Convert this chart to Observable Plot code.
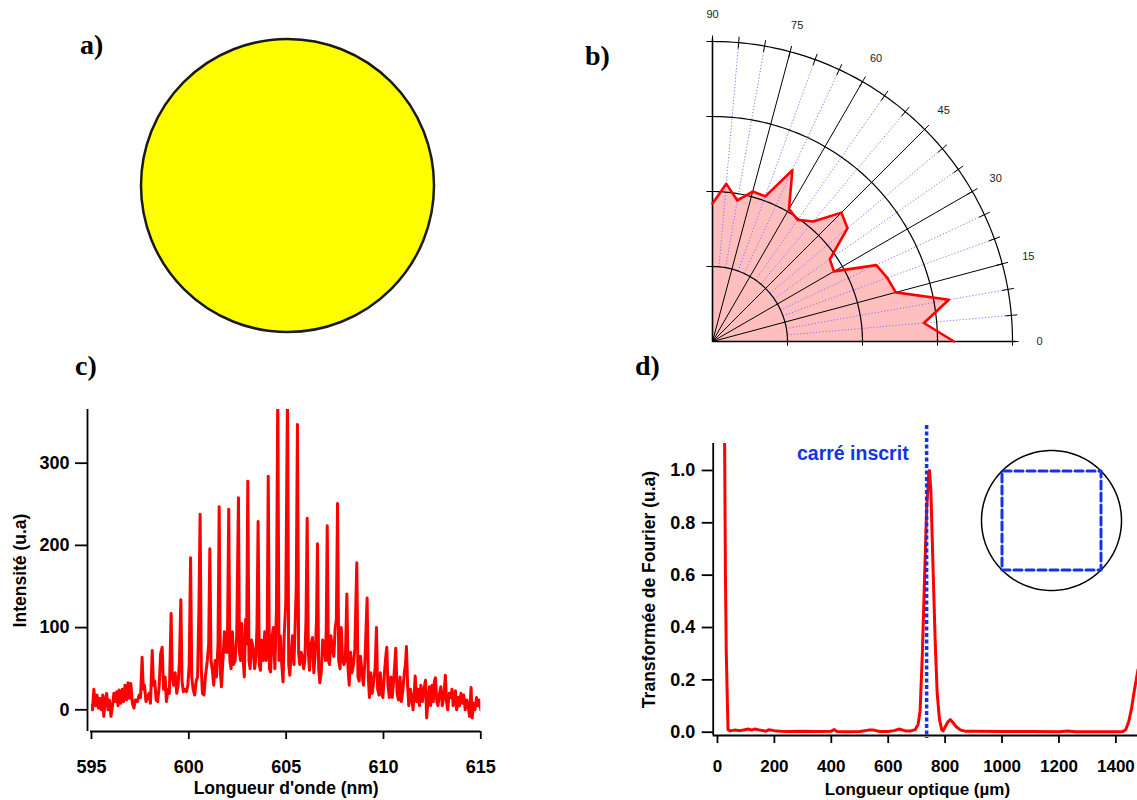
<!DOCTYPE html>
<html>
<head>
<meta charset="utf-8">
<script src="https://cdn.jsdelivr.net/npm/d3@7"></script>
<script src="https://cdn.jsdelivr.net/npm/@observablehq/plot@0.6"></script>
<style>
  html, body { margin: 0; padding: 0; background: #fff; }
  #fig { position: relative; width: 1137px; height: 800px; overflow: hidden; background: #fff; }
  .panel { position: absolute; }
  .panel svg { overflow: visible; }
  .tag { position: absolute; font-family: "Liberation Serif", "Times New Roman", serif; font-weight: bold; font-size: 28px; line-height: 28px; color: #000; }
</style>
</head>
<body>
<div id="fig"></div>
<script>
// ---------------- DATA ----------------
// panel b : polar radiation pattern (angle in degrees, radius in ring units)
const polarAngles = [0, 5, 10, 15, 20, 25, 30, 35, 40, 45, 50, 55, 60, 65, 70, 75, 80, 85, 90];
const polarRadii  = [3.22, 2.83, 3.20, 2.53, 2.48, 2.41, 1.87, 1.91, 2.35, 2.43, 2.09, 1.98, 2.04, 2.52, 2.06, 2.07, 1.91, 2.11, 1.84];
const polarRings = [1, 2, 3, 4];
const polarMajorAngles = [0, 15, 30, 45, 60, 75, 90];
const polarMinorAngles = [5, 10, 20, 25, 35, 40, 50, 55, 65, 70, 80, 85];
const polarTickAngles = [0, 5, 10, 15, 20, 25, 30, 35, 40, 45, 50, 55, 60, 65, 70, 75, 80, 85, 90];
const polarLabels = [0, 15, 30, 45, 60, 75, 90];

// panel c : spectrum [wavelength nm, intensity u.a]
const spectrum = [
[595.00,5],[595.05,0],[595.12,25],[595.20,5],[595.28,18],[595.35,2],[595.42,14],[595.50,0],[595.58,18],[595.63,-8],
[595.70,10],[595.78,20],[595.85,0],[595.92,12],[596.00,-8],[596.08,5],[596.15,20],[596.22,10],[596.30,22],[596.36,5],
[596.42,24],[596.50,8],[596.58,25],[596.65,10],[596.72,30],[596.80,12],[596.88,33],[596.95,14],[597.02,32],[597.10,8],
[597.18,2],[597.25,12],[597.35,10],[597.45,18],[597.52,15],[597.60,64],[597.66,25],[597.72,30],[597.80,10],[597.88,15],
[597.95,20],[598.03,8],[598.12,72],[598.18,30],[598.25,35],[598.32,12],[598.40,10],[598.48,30],[598.55,68],[598.63,76],
[598.70,25],[598.78,40],[598.85,10],[598.92,25],[599.00,20],[599.09,117],[599.15,40],[599.22,30],[599.30,45],[599.38,20],
[599.45,30],[599.52,60],[599.59,134],[599.65,35],[599.72,22],[599.80,25],[599.88,22],[599.95,30],[600.02,55],[600.09,185],
[600.15,40],[600.22,25],[600.30,18],[600.38,35],[600.45,40],[600.52,125],[600.58,238],[600.64,50],[600.70,20],[600.78,18],
[600.85,40],[600.95,60],[601.02,80],[601.08,196],[601.14,60],[601.20,50],[601.28,30],[601.35,60],[601.42,40],[601.50,80],
[601.56,247],[601.62,45],[601.68,28],[601.75,60],[601.83,95],[601.90,70],[601.98,70],[602.05,244],[602.11,60],[602.17,50],
[602.24,95],[602.30,55],[602.38,60],[602.46,90],[602.55,258],[602.60,70],[602.66,60],[602.72,105],[602.78,65],[602.85,40],
[602.92,110],[602.97,80],[603.03,278],[603.09,60],[603.15,50],[603.22,85],[603.30,75],[603.38,50],[603.45,65],[603.50,100],
[603.56,229],[603.62,55],[603.68,48],[603.75,85],[603.83,60],[603.90,95],[603.97,60],[604.02,70],[604.08,284],[604.14,50],
[604.20,46],[604.28,90],[604.35,100],[604.42,50],[604.50,120],[604.57,390],[604.63,60],[604.70,90],[604.76,60],[604.84,34],
[604.90,90],[604.98,130],[605.07,390],[605.13,55],[605.19,42],[605.26,70],[605.33,90],[605.40,55],[605.46,100],[605.52,150],
[605.58,347],[605.64,70],[605.70,55],[605.77,70],[605.84,65],[605.90,50],[605.96,60],[606.02,110],[606.08,233],[606.14,70],
[606.20,48],[606.28,80],[606.35,88],[606.42,45],[606.50,70],[606.56,110],[606.61,202],[606.67,50],[606.73,33],[606.80,45],
[606.88,85],[606.95,75],[607.02,60],[607.06,100],[607.11,224],[607.17,60],[607.23,55],[607.30,90],[607.37,75],[607.45,65],
[607.52,100],[607.58,110],[607.64,251],[607.70,60],[607.77,50],[607.83,100],[607.90,60],[607.97,55],[608.04,60],[608.12,141],
[608.18,50],[608.24,30],[608.31,70],[608.38,45],[608.46,55],[608.53,75],[608.63,179],[608.69,40],[608.75,35],[608.82,65],
[608.90,45],[608.97,30],[609.05,60],[609.16,136],[609.22,40],[609.28,15],[609.35,45],[609.42,20],[609.50,35],[609.57,50],
[609.64,100],[609.70,25],[609.77,18],[609.84,45],[609.90,20],[609.97,15],[610.05,45],[610.12,65],[610.17,76],[610.23,30],
[610.30,15],[610.38,40],[610.45,15],[610.52,35],[610.58,55],[610.63,75],[610.70,20],[610.77,12],[610.85,40],[610.92,10],
[611.00,25],[611.07,45],[611.13,55],[611.18,77],[611.24,30],[611.30,5],[611.38,25],[611.45,15],[611.52,0],[611.58,20],
[611.63,41],[611.70,10],[611.77,25],[611.85,5],[611.92,30],[612.00,10],[612.08,25],[612.16,36],[612.22,-10],[612.28,10],
[612.36,28],[612.42,5],[612.50,30],[612.56,10],[612.62,35],[612.67,39],[612.74,10],[612.80,5],[612.88,20],[612.95,28],
[613.02,5],[613.10,15],[613.18,42],[613.24,10],[613.30,0],[613.38,20],[613.45,15],[613.52,25],[613.58,5],[613.65,18],
[613.70,23],[613.76,0],[613.84,15],[613.90,5],[613.98,20],[614.05,8],[614.12,18],[614.20,0],[614.28,12],[614.35,5],
[614.42,-8],[614.50,27],[614.56,-10],[614.62,8],[614.70,0],[614.78,15],[614.85,5],[614.92,12],[615.00,0]
];
const specDomainX = [595, 615];
const specDomainY = [-26.4, 365.3];
const specTicksX = [595, 600, 605, 610, 615];
const specTicksY = [0, 100, 200, 300];
const specLabelX = "Longueur d'onde (nm)";
const specLabelY = "Intensité (u.a)";

// panel d : Fourier transform [optical length µm, amplitude u.a]
const fourier = [
[25,1.12],[28,0.6],[31,0.3],[37,0.01],[45,0.005],[60,0.008],[80,0.006],[100,0.01],[110,0.012],[120,0.008],
[130,0.012],[150,0.008],[170,0.004],[180,0.009],[200,0.006],[220,0.004],[250,0.003],[300,0.004],[350,0.003],[400,0.004],
[410,0.01],[420,0.003],[450,0.002],[500,0.003],[530,0.008],[550,0.008],[570,0.003],[600,0.003],[620,0.006],[640,0.012],
[660,0.005],[680,0.005],[695,0.01],[705,0.03],[712,0.08],[720,0.3],[728,0.6],[735,0.85],[742,0.98],[745,1.0],
[750,0.92],[757,0.65],[765,0.35],[772,0.15],[780,0.05],[788,0.01],[793,0.005],[800,0.02],[810,0.04],[818,0.048],
[825,0.04],[840,0.02],[855,0.008],[870,0.004],[900,0.004],[1000,0.003],[1100,0.003],[1200,0.002],[1230,0.005],[1260,0.002],
[1300,0.002],[1400,0.002],[1425,0.003],[1435,0.01],[1445,0.04],[1455,0.09],[1465,0.16],[1478,0.24]
];
const ftDomainX = [-15, 1476];
const ftDomainY = [-0.0126, 1.103];
const ftTicksX = [0, 200, 400, 600, 800, 1000, 1200, 1400];
const ftTicksY = [0, 0.2, 0.4, 0.6, 0.8, 1.0];
const ftMarker = [735];
const ftMarkerLabel = "carré inscrit";
const ftLabelX = "Longueur optique (µm)";
const ftLabelY = "Transformée de Fourier (u.a)";

const panelTags = ["a)", "b)", "c)", "d)"];

// ---------------- RENDER ----------------
const fig = document.getElementById("fig");
const SANS = "'Liberation Sans', Arial, Helvetica, sans-serif";
const TICK_FS = 18, TITLE_FS = 17.5;
function place(node, left, top) {
  const div = document.createElement("div");
  div.className = "panel";
  div.style.left = left + "px";
  div.style.top = top + "px";
  div.appendChild(node);
  fig.appendChild(div);
}
const deg = Math.PI / 180;
const px = (a, r) => r * Math.cos(a * deg);
const py = (a, r) => r * Math.sin(a * deg);

// panel a : yellow disc
place(Plot.plot({
  width: 300, height: 300, margin: 0,
  x: {domain: [-1, 1], axis: null}, y: {domain: [-1, 1], axis: null},
  marks: [Plot.dot([0], {x: () => 0, y: () => 0, r: 146.5, fill: "#ffff00", stroke: "#1a1a1a", strokeWidth: 2.5})]
}), 137, 35);

// panel b : polar plot
{
  const fillPts = [[0, 0], ...polarAngles.map((a, i) => [px(a, polarRadii[i]), py(a, polarRadii[i])]), [0, 0]];
  const curvePts = polarAngles.map((a, i) => [px(a, polarRadii[i]), py(a, polarRadii[i])]);
  const arcPts = polarRings.flatMap(r => d3.range(0, 90.5, 1).map(a => ({r, x: px(a, r), y: py(a, r)})));
  const outer = polarRings[polarRings.length - 1];
  const tickLen = 0.08;
  place(Plot.plot({
    width: 447, height: 360,
    marginLeft: 22, marginRight: 125, marginTop: 41, marginBottom: 19,
    x: {domain: [0, outer], axis: null},
    y: {domain: [0, outer], axis: null},
    style: {fontFamily: SANS, overflow: "visible"},
    marks: [
      Plot.line(fillPts, {x: d => d[0], y: d => d[1], fill: "#ffbfbf", stroke: "none"}),
      Plot.link(polarMinorAngles, {x1: a => px(a, 1), y1: a => py(a, 1), x2: a => px(a, outer), y2: a => py(a, outer), stroke: "#7878ff", strokeWidth: 1, strokeDasharray: "1.2,2"}),
      Plot.line(arcPts, {x: "x", y: "y", z: "r", stroke: "#000", strokeWidth: 1.2}),
      Plot.link(polarMajorAngles, {x1: () => 0, y1: () => 0, x2: a => px(a, outer), y2: a => py(a, outer), stroke: "#000", strokeWidth: 1}),
      Plot.link([0, 90], {x1: () => 0, y1: () => 0, x2: a => px(a, outer + 0.04), y2: a => py(a, outer + 0.04), stroke: "#000", strokeWidth: 1.6}),
      Plot.link(polarTickAngles, {x1: a => px(a, outer - tickLen), y1: a => py(a, outer - tickLen), x2: a => px(a, outer + tickLen), y2: a => py(a, outer + tickLen), stroke: "#000", strokeWidth: 1}),
      Plot.link(polarRings, {x1: () => -tickLen, x2: () => 0, y1: r => r, y2: r => r, stroke: "#000", strokeWidth: 1}),
      Plot.link(polarRings, {x1: r => r, x2: r => r, y1: () => -tickLen * 0.7, y2: () => 0, stroke: "#000", strokeWidth: 1}),
      Plot.line(curvePts, {x: d => d[0], y: d => d[1], stroke: "#ff0000", strokeWidth: 2.6}),
      Plot.text(polarLabels, {x: a => px(a, outer * 1.09), y: a => py(a, outer * 1.09), text: a => String(a), fontSize: 11, fill: "#222"})
    ]
  }), 690, 0);
}

// panel c : spectrum
place(Plot.plot({
  width: 500, height: 405,
  marginLeft: 91, marginRight: 19.7, marginTop: 14, marginBottom: 69,
  x: {domain: specDomainX},
  y: {domain: specDomainY},
  style: {fontFamily: SANS, fontWeight: "bold", overflow: "visible", color: "#000"},
  marks: [
    Plot.line(spectrum, {x: d => d[0], y: d => d[1], stroke: "#ff0000", strokeWidth: 3, clip: true}),
    Plot.ruleX([specDomainX[0]], {dx: -4, stroke: "#000", strokeWidth: 1.8}),
    Plot.ruleY([specDomainY[0]], {stroke: "#000", strokeWidth: 1.8, insetLeft: -1}),
    Plot.axisY(specTicksY, {anchor: "left", dx: -4, tickSize: 12, tickPadding: 6, fontSize: TICK_FS, fontWeight: "bold", label: null, strokeWidth: 1.8, tickFormat: d => String(d)}),
    Plot.axisX(specTicksX, {anchor: "bottom", tickSize: 8, tickPadding: 21, fontSize: TICK_FS, fontWeight: "bold", label: null, strokeWidth: 1.8, tickFormat: d => String(d)}),
    Plot.text([specLabelX], {frameAnchor: "bottom", dy: 62, fontSize: TITLE_FS, fontWeight: "bold", text: d => d}),
    Plot.text([specLabelY], {frameAnchor: "left", textAnchor: "middle", dx: -71, rotate: -90, fontSize: TITLE_FS, fontWeight: "bold", text: d => d})
  ]
}), 0, 395);

// panel d : Fourier transform
place(Plot.plot({
  width: 517, height: 400,
  marginLeft: 92.7, marginRight: 0, marginTop: 43, marginBottom: 65,
  x: {domain: ftDomainX},
  y: {domain: ftDomainY},
  style: {fontFamily: SANS, fontWeight: "bold", overflow: "visible", color: "#000"},
  marks: [
    Plot.line(fourier, {x: d => d[0], y: d => d[1], stroke: "#ff0000", strokeWidth: 3, clip: true}),
    Plot.ruleX([ftDomainX[0]], {stroke: "#000", strokeWidth: 1.8}),
    Plot.ruleY([ftDomainY[0]], {stroke: "#000", strokeWidth: 1.8}),
    Plot.axisY(ftTicksY, {anchor: "left", tickSize: 11, tickPadding: 7, fontSize: TICK_FS, fontWeight: "bold", label: null, strokeWidth: 1.8, tickFormat: d => d.toFixed(1)}),
    Plot.axisX(ftTicksX, {anchor: "bottom", tickSize: 8, tickPadding: 16, fontSize: 17, fontWeight: "bold", label: null, strokeWidth: 1.8, tickFormat: d => String(d)}),
    Plot.ruleX(ftMarker, {stroke: "#1533e6", strokeWidth: 3.5, strokeDasharray: "4,2.5", insetTop: -18, insetBottom: -3}),
    Plot.text([ftMarkerLabel], {x: () => ftMarker[0], frameAnchor: "top", textAnchor: "end", dx: -18, dy: 3, fontSize: 19.5, fontWeight: "bold", fill: "#1533e6", text: d => d}),
    Plot.text([ftLabelX], {frameAnchor: "bottom", dx: -8, dy: 59, fontSize: 17, fontWeight: "bold", text: d => d}),
    Plot.text([ftLabelY], {frameAnchor: "left", textAnchor: "middle", dx: -64, rotate: -90, fontSize: TITLE_FS, fontWeight: "bold", text: d => d})
  ]
}), 620, 400);

// panel d inset : circle with inscribed square
{
  const circlePts = d3.range(0, 361, 2).map(a => ({x: Math.cos(a * deg), y: Math.sin(a * deg)}));
  const s = Math.SQRT1_2;
  const squarePts = [[-s, -s], [s, -s], [s, s], [-s, s], [-s, -s]];
  place(Plot.plot({
    width: 140, height: 140, margin: 0,
    x: {domain: [-1, 1], axis: null}, y: {domain: [-1, 1], axis: null},
    marks: [
      Plot.line(circlePts, {x: "x", y: "y", stroke: "#000", strokeWidth: 1.5}),
      Plot.line(squarePts, {x: d => d[0], y: d => d[1], stroke: "#1533e6", strokeWidth: 3, strokeDasharray: "8,4"})
    ]
  }), 981, 450);
}

// panel tags
const tagPos = [[80, 31], [585, 42], [75, 352], [635, 352]];
panelTags.forEach((t, i) => {
  const d = document.createElement("div");
  d.className = "tag";
  d.textContent = t;
  d.style.left = tagPos[i][0] + "px";
  d.style.top = tagPos[i][1] + "px";
  fig.appendChild(d);
});
</script>
</body>
</html>
